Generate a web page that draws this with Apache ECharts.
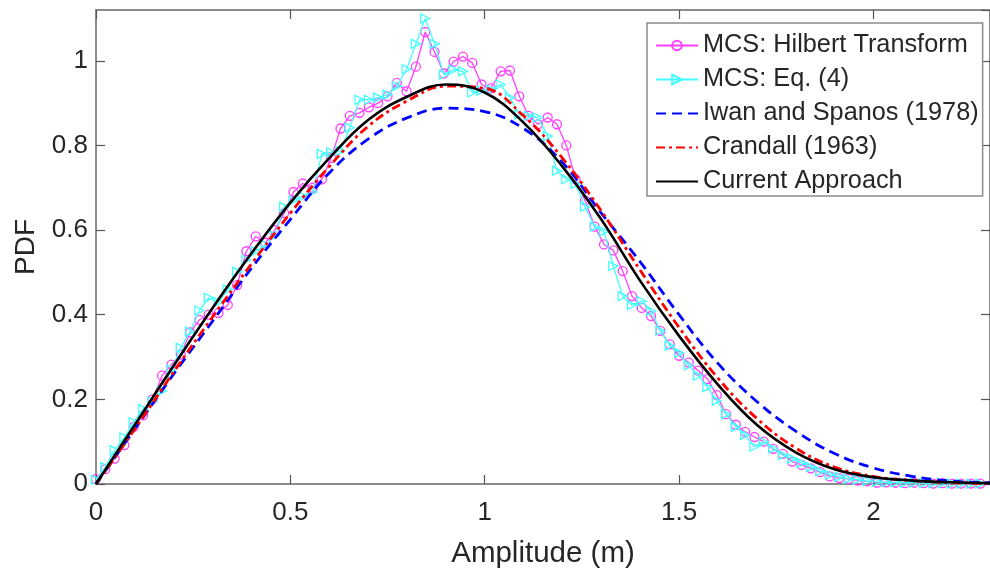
<!DOCTYPE html>
<html>
<head>
<meta charset="utf-8">
<script src="https://cdn.jsdelivr.net/npm/echarts@6/dist/echarts.min.js"></script>
<style>html,body{margin:0;padding:0;background:#fff;}#c{width:990px;height:574px;}</style>
</head>
<body>
<div id="c"></div>
<script>
const seriesNames = ['MCS: Hilbert Transform','MCS: Eq. (4)','Iwan and Spanos (1978)','Crandall (1963)','Current Approach'];
const xTicks = ['0','0.5','1','1.5','2'];
const yTicks = ['0','0.2','0.4','0.6','0.8','1'];

const xMCS = [0,0.024,0.048,0.073,0.097,0.121,0.145,0.17,0.194,0.218,0.242,0.266,0.29,0.315,0.339,0.363,0.387,0.411,0.436,0.46,0.484,0.508,0.532,0.557,0.581,0.605,0.629,0.653,0.678,0.702,0.726,0.75,0.774,0.799,0.823,0.847,0.871,0.895,0.92,0.944,0.968,0.992,1.016,1.041,1.065,1.089,1.113,1.137,1.162,1.186,1.21,1.234,1.258,1.283,1.307,1.331,1.355,1.379,1.404,1.428,1.452,1.476,1.5,1.525,1.549,1.573,1.597,1.621,1.646,1.67,1.694,1.718,1.742,1.767,1.791,1.815,1.839,1.863,1.888,1.912,1.936,1.96,1.984,2.009,2.033,2.057,2.081,2.105,2.13,2.154,2.178,2.202,2.226,2.251,2.275];
const hilbert = [0.012,0.035,0.06,0.092,0.135,0.162,0.2,0.256,0.282,0.306,0.358,0.388,0.4,0.404,0.423,0.47,0.55,0.585,0.57,0.6,0.64,0.69,0.71,0.7,0.72,0.77,0.84,0.87,0.877,0.89,0.9,0.916,0.948,0.928,0.986,1.068,1.021,0.97,0.998,1.01,0.995,0.944,0.935,0.975,0.977,0.916,0.87,0.85,0.866,0.85,0.8,0.72,0.67,0.608,0.566,0.552,0.503,0.444,0.416,0.397,0.362,0.33,0.303,0.287,0.268,0.248,0.21,0.165,0.14,0.123,0.111,0.1,0.083,0.071,0.053,0.045,0.037,0.028,0.018,0.014,0.012,0.008,0.006,0.003,0.004,0.003,0.002,0.003,0.002,0.001,0.002,0.001,0.001,0.001,0.001];
const eq4 = [0.01,0.04,0.08,0.11,0.146,0.177,0.195,0.22,0.27,0.322,0.36,0.41,0.44,0.43,0.46,0.502,0.53,0.55,0.565,0.587,0.655,0.67,0.68,0.69,0.78,0.784,0.787,0.842,0.908,0.908,0.913,0.92,0.94,0.98,1.04,1.1,1.04,0.967,0.979,0.975,0.925,0.93,0.932,0.944,0.913,0.873,0.87,0.866,0.822,0.74,0.72,0.709,0.655,0.608,0.597,0.515,0.444,0.423,0.432,0.409,0.362,0.327,0.31,0.28,0.256,0.229,0.197,0.165,0.135,0.116,0.088,0.1,0.084,0.068,0.06,0.05,0.04,0.03,0.022,0.017,0.012,0.01,0.007,0.005,0.004,0.004,0.003,0.003,0.002,0.002,0.002,0.001,0.001,0.001,0.001];

const xTheory = [0,0.1,0.2,0.3,0.4,0.5,0.6,0.7,0.8,0.9,1.0,1.1,1.2,1.3,1.4,1.5,1.6,1.7,1.8,1.9,2.0,2.1,2.2,2.3];
const iwan = [0,0.13,0.26,0.385,0.51,0.625,0.735,0.815,0.865,0.888,0.88,0.84,0.76,0.64,0.525,0.40,0.285,0.195,0.125,0.072,0.038,0.018,0.007,0.003];
const crandall = [0,0.13,0.265,0.395,0.52,0.64,0.75,0.845,0.905,0.94,0.935,0.87,0.77,0.645,0.505,0.37,0.25,0.155,0.085,0.04,0.018,0.008,0.003,0.001];
const current = [0,0.14,0.28,0.416,0.545,0.665,0.77,0.86,0.915,0.944,0.925,0.854,0.75,0.625,0.48,0.35,0.235,0.14,0.075,0.035,0.016,0.008,0.004,0.002];

const pair = (xs, ys) => xs.map((x, i) => [x, ys[i]]);
const FONT = '"Liberation Sans", Arial, Helvetica, sans-serif';
const TXT = '#262626';

function axisBase() {
  return {
    axisLine: {show: true, onZero: false, lineStyle: {color: '#8c8c8c', width: 2}},
    axisTick: {show: true, inside: true, length: 9, lineStyle: {color: '#555', width: 1.2}},
    splitLine: {show: false}
  };
}

const chart = echarts.init(document.getElementById('c'), null, {renderer: 'canvas'});
chart.setOption({
  animation: false,
  backgroundColor: '#fff',
  grid: {left: 96, top: 10, right: -8, bottom: 86.5, containLabel: false},
  xAxis: [
    Object.assign(axisBase(), {
      type: 'value', min: 0, max: 2.3, interval: 0.5, position: 'bottom',
      name: 'Amplitude (m)', nameLocation: 'middle', nameGap: 55,
      nameTextStyle: {fontFamily: FONT, fontSize: 29.5, color: TXT},
      axisLabel: {fontFamily: FONT, fontSize: 26, color: TXT, margin: 16, showMaxLabel: false,
        formatter: v => xTicks.includes(String(v)) ? String(v) : ''}
    }),
    Object.assign(axisBase(), {
      type: 'value', min: 0, max: 2.3, interval: 0.5, position: 'top',
      axisLabel: {show: false}
    })
  ],
  yAxis: [
    Object.assign(axisBase(), {
      type: 'value', min: 0, max: 1.12, interval: 0.2, position: 'left',
      name: 'PDF', nameLocation: 'middle', nameGap: 56, nameRotate: 90,
      nameTextStyle: {fontFamily: FONT, fontSize: 28, color: TXT},
      axisLabel: {fontFamily: FONT, fontSize: 26, color: TXT, margin: 8, showMaxLabel: false,
        formatter: v => yTicks.includes(String(+v.toFixed(2))) ? String(+v.toFixed(2)) : ''}
    }),
    Object.assign(axisBase(), {
      type: 'value', min: 0, max: 1.12, interval: 0.2, position: 'right',
      axisLabel: {show: false}
    })
  ],
  legend: {
    orient: 'vertical', left: 647, top: 23,
    data: [
      {name: seriesNames[0]},
      {name: seriesNames[1]},
      {name: seriesNames[2], itemStyle: {opacity: 0}},
      {name: seriesNames[3], itemStyle: {opacity: 0}},
      {name: seriesNames[4], itemStyle: {opacity: 0}}
    ],
    backgroundColor: '#fff', borderColor: '#8c8c8c', borderWidth: 1.5,
    padding: [10, 4, 2, 8], itemGap: 9, itemWidth: 42, itemHeight: 12,
    textStyle: {fontFamily: FONT, fontSize: 25.3, color: TXT}
  },
  series: [
    {
      name: seriesNames[0], type: 'line', data: pair(xMCS, hilbert),
      symbol: 'circle', symbolSize: 9,
      lineStyle: {color: '#ff40ff', width: 1.3},
      itemStyle: {color: 'rgba(255,255,255,0)', borderColor: '#ff40ff', borderWidth: 1.3},
      z: 2
    },
    {
      name: seriesNames[1], type: 'line', data: pair(xMCS, eq4),
      symbol: 'triangle', symbolSize: 9, symbolRotate: -90,
      lineStyle: {color: '#40ffff', width: 1.3},
      itemStyle: {color: 'rgba(255,255,255,0)', borderColor: '#40ffff', borderWidth: 1.3},
      z: 3
    },
    {
      name: seriesNames[2], type: 'line', data: pair(xTheory, iwan),
      symbol: 'none', smooth: 0.4,
      lineStyle: {color: '#0000ff', width: 2.8, type: [10, 6]},
      itemStyle: {color: '#0000ff'},
      z: 4
    },
    {
      name: seriesNames[3], type: 'line', data: pair(xTheory, crandall),
      symbol: 'none', smooth: 0.4,
      lineStyle: {color: '#ff0000', width: 2.8, type: [9, 4, 3, 4]},
      itemStyle: {color: '#ff0000'},
      z: 5
    },
    {
      name: seriesNames[4], type: 'line', data: pair(xTheory, current),
      symbol: 'none', smooth: 0.4,
      lineStyle: {color: '#000000', width: 2.6},
      itemStyle: {color: '#000000'},
      z: 6
    }
  ]
});
</script>
</body>
</html>
